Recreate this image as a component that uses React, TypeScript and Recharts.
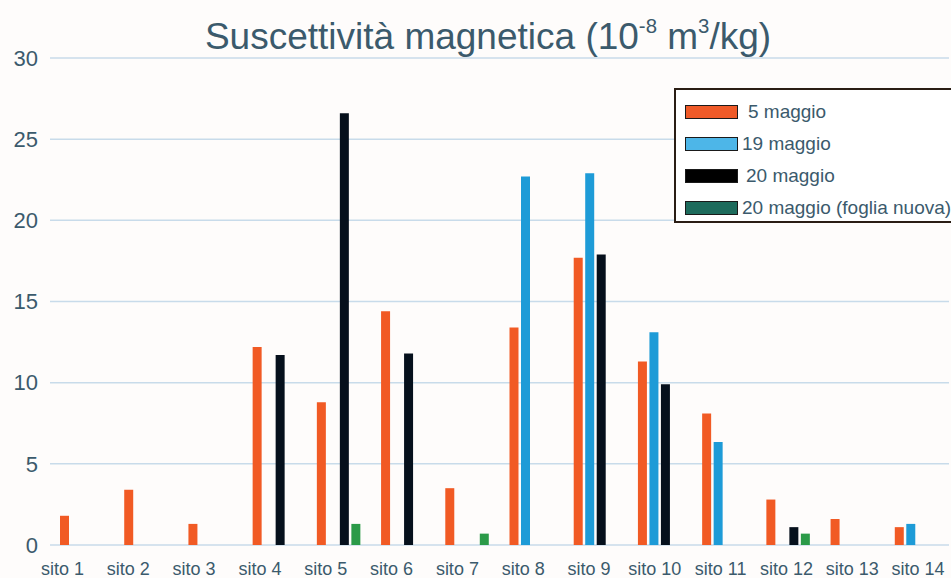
import React from "react";
import { BarChart, Bar, XAxis, YAxis, CartesianGrid, Legend } from "recharts";

// categories and values (10^-8 m3/kg)
const sites = [
  "sito 1", "sito 2", "sito 3", "sito 4", "sito 5", "sito 6", "sito 7",
  "sito 8", "sito 9", "sito 10", "sito 11", "sito 12", "sito 13", "sito 14",
];
const may5 = [1.8, 3.4, 1.3, 12.2, 8.8, 14.4, 3.5, 13.4, 17.7, 11.3, 8.1, 2.8, 1.6, 1.1];
const may19 = [null, null, null, null, null, null, null, 22.7, 22.9, 13.1, 6.35, null, null, 1.3];
const may20 = [null, null, null, 11.7, 26.6, 11.8, null, null, 17.9, 9.9, null, 1.1, null, null];
const may20New = [null, null, null, null, 1.3, null, 0.7, null, null, null, null, 0.7, null, null];
const yTicks = [0, 5, 10, 15, 20, 25, 30];

const SERIES = [
  { key: "may5", name: "5 maggio", fill: "#F15A24", swatch: "#EF5A28", gap: 10 },
  { key: "may19", name: "19 maggio", fill: "#1E9BD7", swatch: "#4DB6E8", gap: 4 },
  { key: "may20", name: "20 maggio", fill: "#06101C", swatch: "#000000", gap: 8 },
  { key: "may20New", name: "20 maggio (foglia nuova)", fill: "#2B9A48", swatch: "#1D6B5C", gap: 4 },
];

const data = sites.map((site, i) => ({
  site,
  may5: may5[i],
  may19: may19[i],
  may20: may20[i],
  may20New: may20New[i],
}));

const TEXT = "#3B5A6C";
const FONT = "'Liberation Sans', Arial, Helvetica, sans-serif";

// labels in the original sit slightly left of the bar groups
function SiteTick({ x, y, payload, index }: any) {
  const shift = -19.6 + 1.6 * index;
  return (
    <text x={x + shift} y={y + 22} textAnchor="middle" fill={TEXT} fontSize={18} fontFamily={FONT}>
      {payload.value}
    </text>
  );
}

function LegendBox() {
  return (
    <div
      style={{
        width: 300,
        height: 135,
        boxSizing: "border-box",
        border: "2px solid #2a1d14",
        background: "#fff",
        paddingTop: 6,
        fontFamily: FONT,
      }}
    >
      {SERIES.map((s) => (
        <div key={s.key} style={{ display: "flex", alignItems: "center", height: 32, paddingLeft: 9 }}>
          <span
            style={{
              display: "inline-block",
              width: 53,
              height: 14,
              boxSizing: "border-box",
              background: s.swatch,
              border: "1.5px solid #1a1a1a",
            }}
          />
          <span style={{ marginLeft: s.gap, fontSize: 19, color: TEXT, whiteSpace: "nowrap" }}>{s.name}</span>
        </div>
      ))}
    </div>
  );
}

export default function App() {
  return (
    <div
      style={{
        position: "absolute",
        left: 0,
        top: 0,
        width: 951,
        height: 578,
        overflow: "hidden",
        background: "#fefcfb",
        fontFamily: FONT,
      }}
    >
      <div
        style={{
          position: "absolute",
          left: 0,
          top: 16,
          width: 976,
          textAlign: "center",
          fontSize: 37,
          lineHeight: 1,
          color: TEXT,
          zIndex: 2,
        }}
      >
        Suscettività magnetica (10
        <span style={{ fontSize: "55%", verticalAlign: "0.8em" }}>-8</span> m
        <span style={{ fontSize: "55%", verticalAlign: "0.8em" }}>3</span>/kg)
      </div>
      <BarChart
        width={951}
        height={578}
        data={data}
        margin={{ top: 58, right: 2, bottom: 3, left: 0 }}
        barSize={9}
        barGap={2.5}
      >
        <CartesianGrid vertical={false} stroke="#c8dbea" strokeWidth={1.5} />
        <XAxis dataKey="site" axisLine={false} tickLine={false} interval={0} height={30} tick={<SiteTick />} />
        <YAxis
          domain={[0, 30]}
          ticks={yTicks}
          width={50}
          axisLine={false}
          tickLine={false}
          tickMargin={6}
          tick={{ fill: TEXT, fontSize: 22, fontFamily: FONT }}
        />
        <Legend
          layout="horizontal"
          align="center"
          verticalAlign="middle"
          wrapperStyle={{ position: "absolute", left: 674, top: 88, width: 300, bottom: "auto", right: "auto" }}
          content={() => <LegendBox />}
        />
        {SERIES.map((s) => (
          <Bar key={s.key} dataKey={s.key} name={s.name} fill={s.fill} isAnimationActive={false} />
        ))}
      </BarChart>
    </div>
  );
}
